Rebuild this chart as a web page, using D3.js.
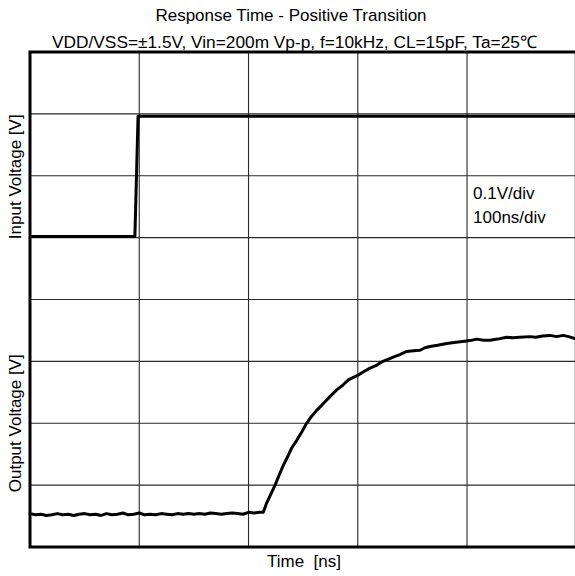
<!DOCTYPE html>
<html>
<head>
<meta charset="utf-8">
<script src="https://cdn.jsdelivr.net/npm/d3@7"></script>
<style>
  html, body { margin: 0; padding: 0; background: #fff; }
  svg { display: block; }
  text { font-family: "Liberation Sans", Arial, sans-serif; fill: #000; }
</style>
</head>
<body>
<svg id="chart" width="575" height="576"></svg>
<script>
// ---- Data (time in ns, voltage in V on a 0.1 V/div screen) ----
const titleText = "Response Time - Positive Transition";
const subtitleText = "VDD/VSS=\u00b11.5V, Vin=200m Vp-p, f=10kHz, CL=15pF, Ta=25\u2103";
const xLabel = "Time  [ns]";
const yLabelTop = "Input Voltage [V]";
const yLabelBottom = "Output Voltage [V]";
const noteLines = ["0.1V/div", "100ns/div"];

const timeTicks = [0, 100, 200, 300, 400, 500];
const voltTicks = [0, 0.1, 0.2, 0.3, 0.4, 0.5, 0.6, 0.7, 0.8];

const inputTime = [0, 96.0, 98.9, 500];
const inputVolt = [0.502, 0.502, 0.696, 0.696];

const outputTime = [
  0, 5, 10, 15, 20, 25, 30, 35, 40, 45, 50, 55, 60, 65, 70, 75, 80, 85, 90, 95,
  100, 105, 110, 115, 120, 125, 130, 135, 140, 145, 150, 155, 160, 165, 170, 175,
  180, 185, 190, 195, 200, 205, 210, 213.5,
  216.6, 220, 224.3, 228, 231.8, 235.5, 239.5, 244, 248.7, 252.5, 256.3, 262, 268.5,
  274.5, 280.7, 286, 291.3, 296, 300.5, 306, 311.2, 316.5, 321.9, 327, 332.5,
  338.5, 344.8, 351, 357.0, 361.5, 366.1, 373, 381.4, 390, 399.7, 404, 408.9,
  415, 421.0, 428, 436.3, 442, 448, 457.6, 463, 469, 475.9, 482, 488, 493, 498.8
];
const outputVolt = [
  0.054, 0.052, 0.053, 0.051, 0.052, 0.054, 0.052, 0.053, 0.051, 0.053, 0.054, 0.052, 0.053, 0.051, 0.054, 0.052, 0.053, 0.055, 0.052, 0.053,
  0.055, 0.052, 0.053, 0.052, 0.054, 0.053, 0.052, 0.054, 0.053, 0.054, 0.053, 0.054, 0.053, 0.055, 0.054, 0.053,
  0.054, 0.055, 0.054, 0.053, 0.056, 0.055, 0.056, 0.056,
  0.071, 0.084, 0.100, 0.116, 0.132, 0.145, 0.160, 0.172, 0.186, 0.198, 0.208, 0.220, 0.232,
  0.243, 0.254, 0.261, 0.270, 0.274, 0.278, 0.284, 0.289, 0.293, 0.299, 0.303, 0.307,
  0.311, 0.316, 0.317, 0.318, 0.322, 0.324, 0.326, 0.329, 0.331, 0.333, 0.334, 0.336,
  0.334, 0.334, 0.336, 0.339, 0.338, 0.339, 0.340, 0.339, 0.341, 0.342, 0.340, 0.342, 0.340, 0.337
];

// ---- Layout ----
const svg = d3.select("#chart");
const plot = { left: 30, top: 52, right: 576.3, bottom: 547 };

const x = d3.scaleLinear().domain([0, 500]).range([plot.left, plot.right]);
const y = d3.scaleLinear().domain([0, 0.8]).range([plot.bottom, plot.top]);

// grid
const grid = svg.append("g").attr("stroke", "#2a2a2a").attr("stroke-width", 1.1);
grid.selectAll("line.v").data(timeTicks.slice(1, -1)).join("line")
  .attr("class", "v")
  .attr("x1", d => x(d)).attr("x2", d => x(d))
  .attr("y1", plot.top).attr("y2", plot.bottom);
grid.selectAll("line.h").data(voltTicks.slice(1, -1)).join("line")
  .attr("class", "h")
  .attr("x1", plot.left).attr("x2", plot.right)
  .attr("y1", d => y(d)).attr("y2", d => y(d));

// traces
const line = d3.line().x(d => x(d[0])).y(d => y(d[1]));
const inputData = inputTime.map((t, i) => [t, inputVolt[i]]);
const outputData = outputTime.map((t, i) => [t, outputVolt[i]]);

svg.append("path").datum(inputData)
  .attr("d", line).attr("fill", "none").attr("stroke", "#000")
  .attr("stroke-width", 3).attr("stroke-linejoin", "round");
svg.append("path").datum(outputData)
  .attr("d", line).attr("fill", "none").attr("stroke", "#000")
  .attr("stroke-width", 3).attr("stroke-linejoin", "round").attr("stroke-linecap", "round");

// frame
svg.append("rect")
  .attr("x", plot.left).attr("y", plot.top)
  .attr("width", plot.right - plot.left).attr("height", plot.bottom - plot.top)
  .attr("fill", "none").attr("stroke", "#000").attr("stroke-width", 3);

// texts
svg.append("text").attr("x", 291).attr("y", 21).attr("text-anchor", "middle")
  .attr("font-size", 17).text(titleText);
svg.append("text").attr("x", 294.5).attr("y", 48).attr("text-anchor", "middle")
  .attr("font-size", 17.3).text(subtitleText);
svg.append("text").attr("x", 304).attr("y", 567).attr("text-anchor", "middle")
  .attr("font-size", 17).attr("xml:space", "preserve").style("white-space", "pre").text(xLabel);

svg.append("text").attr("transform", `translate(20.5,${y(0.6) + 1}) rotate(-90)`)
  .attr("text-anchor", "middle").attr("font-size", 17).text(yLabelTop);
svg.append("text").attr("transform", `translate(20.5,${y(0.2)}) rotate(-90)`)
  .attr("text-anchor", "middle").attr("font-size", 17).text(yLabelBottom);

svg.selectAll("text.note").data(noteLines).join("text")
  .attr("class", "note")
  .attr("x", x(400) + 6)
  .attr("y", (d, i) => y(0.6) + 23 + i * 24.5)
  .attr("font-size", 17).text(d => d);
</script>
</body>
</html>
